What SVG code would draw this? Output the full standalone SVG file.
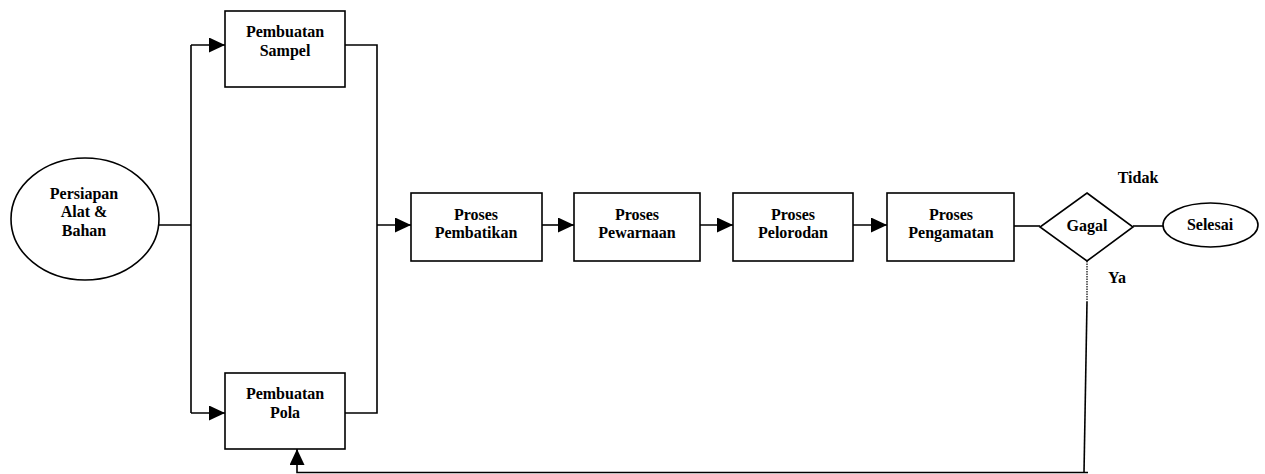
<svg xmlns="http://www.w3.org/2000/svg" width="1265" height="474" viewBox="0 0 1265 474">
<defs>
<marker id="arr" markerWidth="17" markerHeight="15" refX="16" refY="7.5" orient="auto" markerUnits="userSpaceOnUse">
<path d="M0,0 L16,7.5 L0,15 Z" fill="#000"/>
</marker>
</defs>
<style>
.s{fill:#fff;stroke:#000;stroke-width:1.6}
.c{fill:none;stroke:#000;stroke-width:1.6}
.t text{font-weight:bold;font-size:16px;fill:#000;text-anchor:middle}
</style>
<rect width="1265" height="474" fill="#fff"/>
<g id="connectors">
<path class="c" d="M159,225 H191 M191,45 V413"/>
<path class="c" d="M191,45 H225" marker-end="url(#arr)"/>
<path class="c" d="M191,413 H225" marker-end="url(#arr)"/>
<path class="c" d="M345,45 H377 V413 H345"/>
<path class="c" d="M377,225 H411" marker-end="url(#arr)"/>
<path class="c" d="M542,225 H574" marker-end="url(#arr)"/>
<path class="c" d="M700,225 H733" marker-end="url(#arr)"/>
<path class="c" d="M853,225 H887" marker-end="url(#arr)"/>
<path class="c" d="M1014,226 H1040"/>
<path class="c" d="M1133,226 H1163"/>
<path fill="none" stroke="#000" stroke-width="1.2" stroke-dasharray="1.5,1" d="M1087,261 V302"/>
<path class="c" d="M1087,302 L1084,472.5"/>
<path class="c" d="M1088,472.5 H297 V449" marker-end="url(#arr)"/>
</g>
<g class="t" font-family="'Liberation Serif', 'Times New Roman', 'DejaVu Serif', serif">
<g id="persiapan">
<ellipse class="s" cx="85" cy="219" rx="74" ry="61"/>
<text x="84" y="199">Persiapan</text>
<text x="84" y="217">Alat &amp;</text>
<text x="84" y="236">Bahan</text>
</g>
<g id="sampel">
<rect class="s" x="225" y="11" width="120" height="76"/>
<text x="285" y="37">Pembuatan</text>
<text x="285" y="56">Sampel</text>
</g>
<g id="pola">
<rect class="s" x="225" y="373" width="120" height="76"/>
<text x="285" y="399">Pembuatan</text>
<text x="285" y="418">Pola</text>
</g>
<g id="pembatikan">
<rect class="s" x="411" y="193" width="131" height="68"/>
<text x="476" y="220">Proses</text>
<text x="476" y="238">Pembatikan</text>
</g>
<g id="pewarnaan">
<rect class="s" x="574" y="193" width="126" height="68"/>
<text x="637" y="220">Proses</text>
<text x="637" y="238">Pewarnaan</text>
</g>
<g id="pelorodan">
<rect class="s" x="733" y="193" width="120" height="68"/>
<text x="793" y="220">Proses</text>
<text x="793" y="238">Pelorodan</text>
</g>
<g id="pengamatan">
<rect class="s" x="887" y="193" width="127" height="68"/>
<text x="951" y="220">Proses</text>
<text x="951" y="238">Pengamatan</text>
</g>
<g id="gagal">
<polygon class="s" points="1087,193 1133,227 1087,261 1040,227"/>
<text x="1087" y="231">Gagal</text>
</g>
<g id="selesai">
<ellipse class="s" cx="1210.5" cy="225" rx="47.5" ry="22"/>
<text x="1210" y="230">Selesai</text>
</g>
<g id="labels">
<text x="1138" y="183">Tidak</text>
<text x="1117" y="283">Ya</text>
</g>
</g>
</svg>
